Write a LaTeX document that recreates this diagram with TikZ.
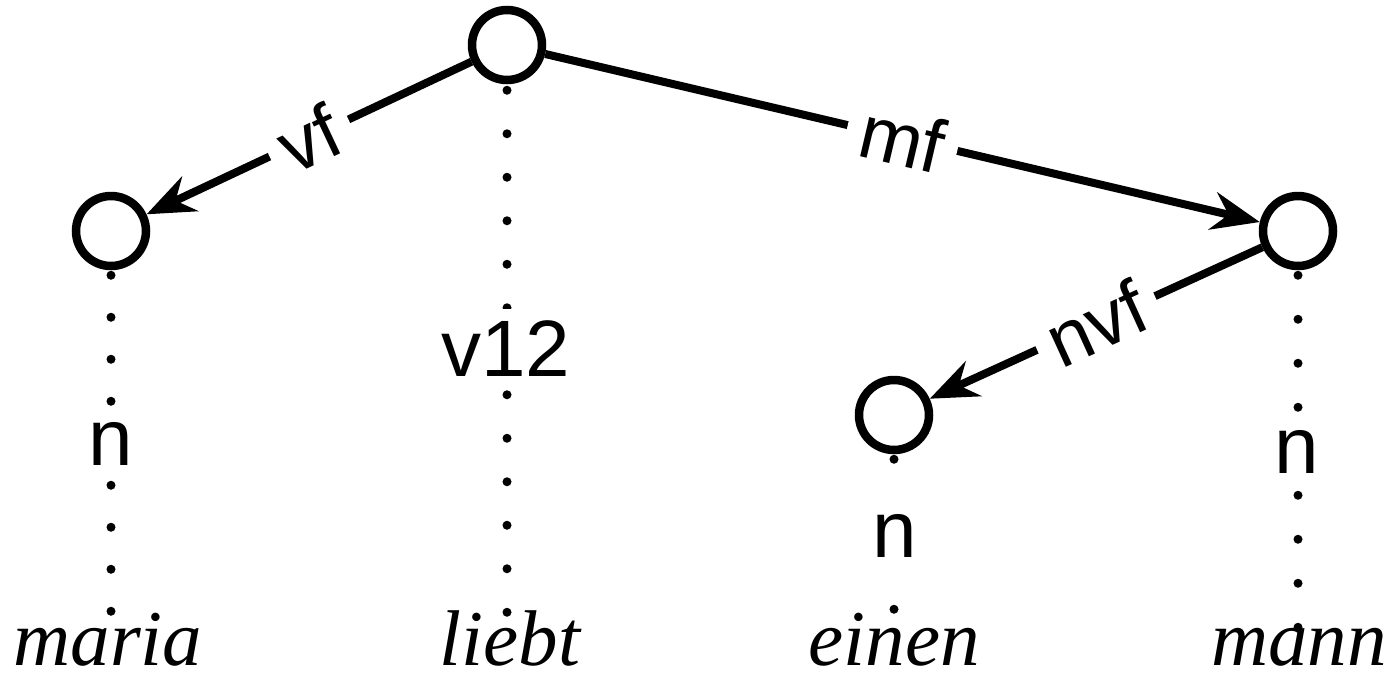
\documentclass[tikz,border=0pt]{standalone}
\usepackage{fontspec}
\setmainfont{Liberation Serif}
\setsansfont{Liberation Sans}
\usetikzlibrary{arrows.meta}
\tikzset{
  vertex/.style={circle, draw, line width=8.5pt, minimum size=70pt, inner sep=0pt, fill=white},
  edge/.style={line width=8pt, -{Stealth[length=48pt,width=38pt,inset=16pt]}},
  elabel/.style={midway, sloped, fill=white, inner xsep=14pt, inner ysep=2pt,
                 font=\sffamily\fontsize{76}{76}\selectfont},
  cat/.style={anchor=base, fill=white, inner xsep=8pt, inner ysep=11pt, font=\sffamily\fontsize{80}{80}\selectfont},
  word/.style={anchor=base, inner sep=0pt, font=\itshape\fontsize{79}{79}\selectfont},
  dots/.style={line width=9pt, line cap=round, dash pattern=on 0pt off #1},
}
\begin{document}
\begin{tikzpicture}[x=1pt,y=-1pt]
  \fill[white] (0,0) rectangle (1395,673);
  \useasboundingbox (0,0) rectangle (1395,673);

  % tree nodes
  \node[vertex] (root)  at (507,45)  {};
  \node[vertex] (vfn)   at (111,231) {};
  \node[vertex] (mfn)   at (1298,231) {};
  \node[vertex] (nvfn)  at (894,415) {};

  % words
  \node[word] (maria) at (108,665) {maria};
  \node[word] (liebt) at (510,665) {liebt};
  \node[word] (einen) at (894,665) {einen};
  \node[word] (mann)  at (1299,665) {mann};

  % ends of the projection lines
  \coordinate (liebt-top) at (507,612.5);
  \coordinate (maria-top) at (111,611.5);
  \coordinate (einen-top) at (894,609.5);
  \coordinate (mann-top)  at (1298,627.5);

  % projection lines
  \draw[dots=43.5pt, shorten <=6pt] (root.south) -- (liebt-top);
  \draw[dots=42pt,   shorten <=5pt] (vfn.south)  -- (maria-top);
  \draw[dots=50pt,   shorten <=5pt] (nvfn.south) -- (einen-top);
  \draw[dots=44pt,   shorten <=5pt] (mfn.south)  -- (mann-top);

  % categories
  \node[cat] (c-root) at (506,376) {v12};
  \node[cat] (c-vf)   at (111,465) {n};
  \node[cat] (c-nvf)  at (895,557) {n};
  \node[cat] (c-mf)   at (1297,473) {n};

  % dependency edges
  \draw[edge] (root) -- node[elabel] {vf} (vfn);
  \draw[edge] (root) -- node[elabel] {mf} (mfn);
  \draw[edge] (mfn)  -- node[elabel] {nvf} (nvfn);
\end{tikzpicture}
\end{document}
